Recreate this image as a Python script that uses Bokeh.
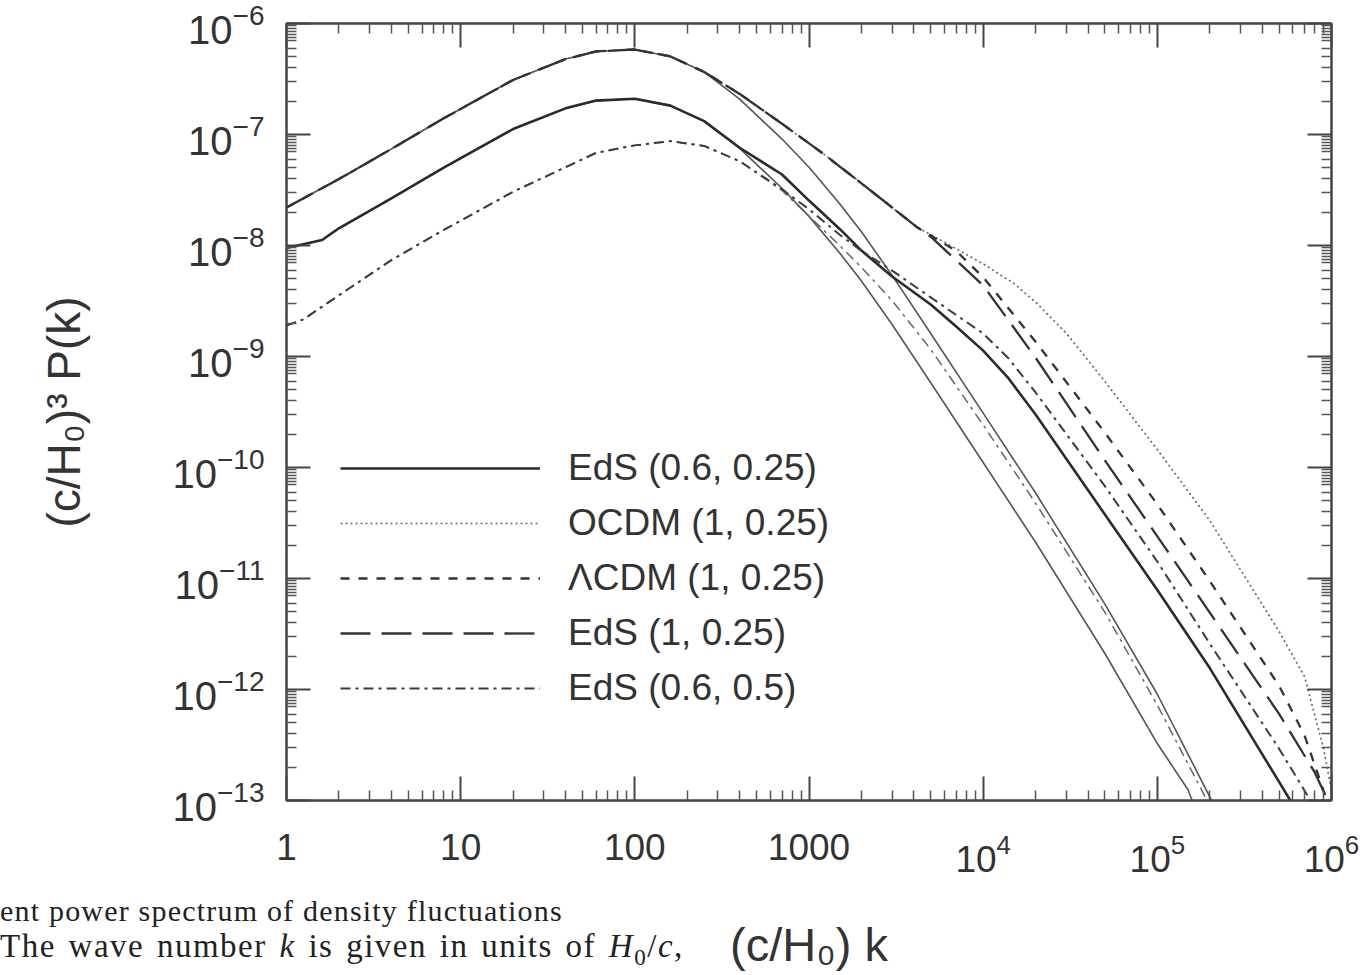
from bokeh.plotting import figure
from bokeh.layouts import column
from bokeh.models import (Range1d, LogAxis, FixedTicker, LogTickFormatter, Legend,
                          LegendItem, CustomJSTickFormatter, Div)
from bokeh.embed import file_html
from bokeh.resources import INLINE

# ---------------- data ----------------
# linear spectrum, sigma8 = 1, Gamma = 0.25 (shared by OCDM / LCDM / EdS(1,0.25))
k_lin1 = [1, 2, 4, 8, 20, 40, 60, 100, 160, 250, 400, 700, 1000, 1500, 2000, 3000,
          5000, 1e4, 2e4, 5e4, 1e5, 2e5, 2.5e5]
P_lin1 = [2.20e-8, 3.97e-8, 7.40e-8, 1.40e-7, 3.10e-7, 4.78e-7, 5.60e-7, 5.83e-7,
          5.05e-7, 3.66e-7, 2.08e-7, 9.10e-8, 5.07e-8, 2.38e-8, 1.33e-8, 5.38e-9,
          1.61e-9, 3.09e-10, 5.89e-11, 5.87e-12, 9.06e-13, 1.08e-13, 5.49e-14]

# linear spectrum, sigma8 = 0.6, Gamma = 0.25
k_lin2 = [1, 1.6, 2, 4, 8, 20, 40, 60, 100, 160, 250, 400, 700, 1000, 1500, 2000,
          3000, 5000, 1e4, 2e4, 5e4, 1e5, 1.5e5, 2e5]
P_lin2 = [9.5e-9, 1.12e-8, 1.43e-8, 2.66e-8, 5.04e-8, 1.12e-7, 1.72e-7, 2.02e-7,
          2.10e-7, 1.82e-7, 1.32e-7, 7.49e-8, 3.28e-8, 1.83e-8, 8.57e-9, 4.79e-9,
          1.94e-9, 5.80e-10, 1.11e-10, 2.12e-11, 2.11e-12, 3.26e-13, 1.25e-13, 3.89e-14]

# linear spectrum, sigma8 = 0.6, Gamma = 0.5
k_lin3 = [1, 1.25, 2, 4, 8, 20, 40, 60, 100, 160, 250, 400, 700, 1000, 1500, 2000,
          3000, 5000, 1e4, 2e4, 5e4, 1e5, 2e5]
P_lin3 = [1.90e-9, 2.16e-9, 3.56e-9, 7.38e-9, 1.38e-8, 3.05e-8, 5.07e-8, 6.84e-8,
          7.98e-8, 8.71e-8, 7.89e-8, 5.74e-8, 3.13e-8, 1.84e-8, 1.00e-8, 6.35e-9,
          3.19e-9, 1.16e-9, 2.42e-10, 4.77e-11, 4.96e-12, 7.23e-13, 9.0e-14]

# nonlinear: EdS (0.6, 0.25)
k_eds0625 = [1, 1.6, 2, 4, 8, 20, 40, 60, 100, 160, 250, 400, 700, 1000, 1500, 2000,
             3000, 5000, 7000, 1e4, 1.4e4, 2e4, 5e4, 1e5, 2e5, 5e5, 7e5]
P_eds0625 = [9.5e-9, 1.12e-8, 1.43e-8, 2.66e-8, 5.04e-8, 1.12e-7, 1.72e-7, 2.02e-7,
             2.10e-7, 1.82e-7, 1.32e-7, 7.6e-8, 4.36e-8, 2.54e-8, 1.41e-8, 9.0e-9,
             5.26e-9, 2.94e-9, 1.86e-9, 1.13e-9, 6.34e-10, 3.0e-10, 3.77e-11,
             7.87e-12, 1.56e-12, 1.47e-13, 6.18e-14]

# nonlinear: EdS (0.6, 0.5)
k_eds065 = [1, 1.25, 2, 4, 8, 20, 40, 60, 100, 160, 250, 400, 700, 1000, 1500, 2000,
            3000, 5000, 1e4, 1.4e4, 2e4, 5e4, 1e5, 2e5, 5e5, 8e5]
P_eds065 = [1.90e-9, 2.16e-9, 3.56e-9, 7.38e-9, 1.38e-8, 3.05e-8, 5.07e-8, 6.84e-8,
            7.98e-8, 8.71e-8, 7.89e-8, 5.74e-8, 3.21e-8, 2.12e-8, 1.25e-8, 8.97e-9,
            5.94e-9, 3.41e-9, 1.61e-9, 9.6e-10, 4.74e-10, 6.79e-11, 1.42e-11,
            2.59e-12, 2.93e-13, 8.69e-14]

# nonlinear sigma8 = 1, Gamma = 0.25 : common part of the three models
k_common = [1, 2, 4, 8, 20, 40, 60, 100, 160, 250, 400, 700, 1200, 2000, 3000, 4200]
P_common = [2.20e-8, 3.97e-8, 7.40e-8, 1.40e-7, 3.10e-7, 4.78e-7, 5.60e-7, 5.83e-7,
            5.05e-7, 3.66e-7, 2.32e-7, 1.25e-7, 6.76e-8, 3.63e-8, 2.20e-8, 1.45e-8]

# high-k branches of the three sigma8 = 1 models
k_ocdm_hi = [5000, 1e4, 1.5e4, 2e4, 3e4, 5e4, 1e5, 2e5, 5e5, 7e5, 9e5, 1e6]
P_ocdm_hi = [1.25e-8, 6.84e-9, 4.55e-9, 3.09e-9, 1.62e-9, 5.96e-10, 1.45e-10,
             3.33e-11, 3.33e-12, 1.31e-12, 2.94e-13, 1.23e-13]

k_lcdm_hi = [5000, 7000, 1e4, 2e4, 5e4, 1e5, 2e5, 5e5, 7e5, 9e5, 1e6]
P_lcdm_hi = [1.23e-8, 8.93e-9, 5.18e-9, 1.36e-9, 2.06e-10, 4.65e-11, 9.5e-12,
             1.08e-12, 3.86e-13, 1.23e-13, 7.8e-14]

k_eds1_hi = [5000, 1e4, 2e4, 5e4, 1e5, 2e5, 5e5, 8e5, 1e6]
P_eds1_hi = [1.20e-8, 4.37e-9, 9.75e-10, 1.16e-10, 2.40e-11, 4.93e-12, 6.03e-13,
             1.80e-13, 8.5e-14]

labels = ["EdS (0.6, 0.25)", "OCDM (1, 0.25)", "\u039bCDM (1, 0.25)",
          "EdS (1, 0.25)", "EdS (0.6, 0.5)"]

caption_html = [
    "ent power spectrum of density fluctuations",
    "The wave number <i>k</i> is given in units of <i>H</i><sub style='font-size:70%;line-height:0'>0</sub>/<i>c</i>,",
]

x_major = [1, 10, 100, 1000, 1e4, 1e5, 1e6]
y_major = [1e-13, 1e-12, 1e-11, 1e-10, 1e-9, 1e-8, 1e-7, 1e-6]
x_minor = [m * 10.0 ** e for e in range(0, 6) for m in range(2, 10)]
y_minor = [m * 10.0 ** e for e in range(-13, -6)
           for m in (2, 3, 4, 5, 6, 7, 7.5, 8, 8.5, 9, 9.5)]

# ---------------- figure ----------------
FONT = "Liberation Sans"
INK = "#333333"

p = figure(width=1365, height=975, x_axis_type="log", y_axis_type="log",
           x_range=Range1d(1, 1e6), y_range=Range1d(1e-13, 1e-6),
           output_backend="svg", toolbar_location=None,
           min_border_left=286, min_border_right=34, min_border_top=23,
           min_border_bottom=175, background_fill_color="white",
           border_fill_color="white")
p.grid.visible = False
p.outline_line_color = "#444444"
p.outline_line_width = 2

xa = p.xaxis[0]
ya = p.yaxis[0]
xa.ticker = FixedTicker(ticks=x_major, minor_ticks=x_minor)
ya.ticker = FixedTicker(ticks=y_major, minor_ticks=y_minor)
xa.formatter = LogTickFormatter(min_exponent=4)
ya.formatter = LogTickFormatter()

top = LogAxis(ticker=FixedTicker(ticks=x_major, minor_ticks=x_minor),
              formatter=CustomJSTickFormatter(code="return ''"),
              major_label_text_font_size="0px")
right = LogAxis(ticker=FixedTicker(ticks=y_major, minor_ticks=y_minor),
                formatter=CustomJSTickFormatter(code="return ''"),
                major_label_text_font_size="0px")
p.add_layout(top, "above")
p.add_layout(right, "right")

for ax in (xa, ya, top, right):
    ax.axis_line_color = "#444444"
    ax.axis_line_width = 2
    ax.major_tick_line_color = "#444444"
    ax.minor_tick_line_color = "#555555"
    ax.major_tick_line_width = 2
    ax.minor_tick_line_width = 1.5
    ax.major_tick_out = 0
    ax.minor_tick_out = 0
    ax.major_tick_in = 24
    ax.minor_tick_in = 10

for ax in (xa, ya):
    ax.major_label_text_font = FONT
    ax.major_label_text_color = INK

xa.major_label_text_font_size = "37px"
xa.major_label_standoff = 33
xa.axis_label = "(c/H\u2080) k"
xa.axis_label_text_font = FONT
xa.axis_label_text_font_size = "47px"
xa.axis_label_text_font_style = "normal"
xa.axis_label_text_color = INK
xa.axis_label_standoff = 43

ya.major_label_text_font_size = "40px"
ya.major_label_standoff = 22
ya.axis_label = "(c/H\u2080)\u00b3 P(k)"
ya.axis_label_text_font = FONT
ya.axis_label_text_font_size = "46px"
ya.axis_label_text_font_style = "normal"
ya.axis_label_text_color = INK
ya.axis_label_standoff = 80

# ---------------- curves ----------------
r_lin1 = p.line(k_lin1, P_lin1, line_color="#555555", line_width=1.6)
r_lin2 = p.line(k_lin2, P_lin2, line_color="#555555", line_width=1.6)
r_lin3 = p.line(k_lin3, P_lin3, line_color="#666666", line_width=1.5,
                line_dash="10 5 3 5")

r_eds0625 = p.line(k_eds0625, P_eds0625, line_color="#2b2b2b", line_width=2.6)
r_eds065 = p.line(k_eds065, P_eds065, line_color="#3c3c3c", line_width=2.0,
                  line_dash="10 5 3 5")

k_ocdm = k_common + k_ocdm_hi
P_ocdm = P_common + P_ocdm_hi
k_lcdm = k_common + k_lcdm_hi
P_lcdm = P_common + P_lcdm_hi
k_eds1 = k_common + k_eds1_hi
P_eds1 = P_common + P_eds1_hi

r_ocdm = p.line(k_ocdm, P_ocdm, line_color="#6a6a6a", line_width=1.7,
                line_dash="2 3")
r_lcdm = p.line(k_lcdm, P_lcdm, line_color="#333333", line_width=2.3,
                line_dash="9 9")
r_eds1 = p.line(k_eds1, P_eds1, line_color="#333333", line_width=2.3,
                line_dash="30 11")

legend = Legend(items=[
    LegendItem(label=labels[0], renderers=[r_eds0625]),
    LegendItem(label=labels[1], renderers=[r_ocdm]),
    LegendItem(label=labels[2], renderers=[r_lcdm]),
    LegendItem(label=labels[3], renderers=[r_eds1]),
    LegendItem(label=labels[4], renderers=[r_eds065]),
], location=(54, 91), glyph_width=200, glyph_height=34, label_height=34,
    spacing=13, label_standoff=28, padding=0, margin=0,
    border_line_alpha=0, background_fill_alpha=0,
    label_text_font=FONT, label_text_font_size="37px", label_text_color=INK)
p.add_layout(legend)

# cropped book caption below the plot (overlaid on the figure's bottom-left corner)
cap = Div(
    text=("<div style=\"font-family:'Liberation Serif',serif; color:#222;"
          " white-space:nowrap;\">"
          "<div style='font-size:30px; line-height:32px; letter-spacing:1.2px;'>"
          + caption_html[0] + "</div>"
          "<div style='font-size:33px; line-height:38px; letter-spacing:1.5px;"
          " word-spacing:3px;'>" + caption_html[1] + "</div>"
          "</div>"),
    width=720, height=80, margin=(-80, 0, 0, 0))

layout = column(p, cap, spacing=0)

open("out.html", "w").write(file_html(layout, INLINE))
